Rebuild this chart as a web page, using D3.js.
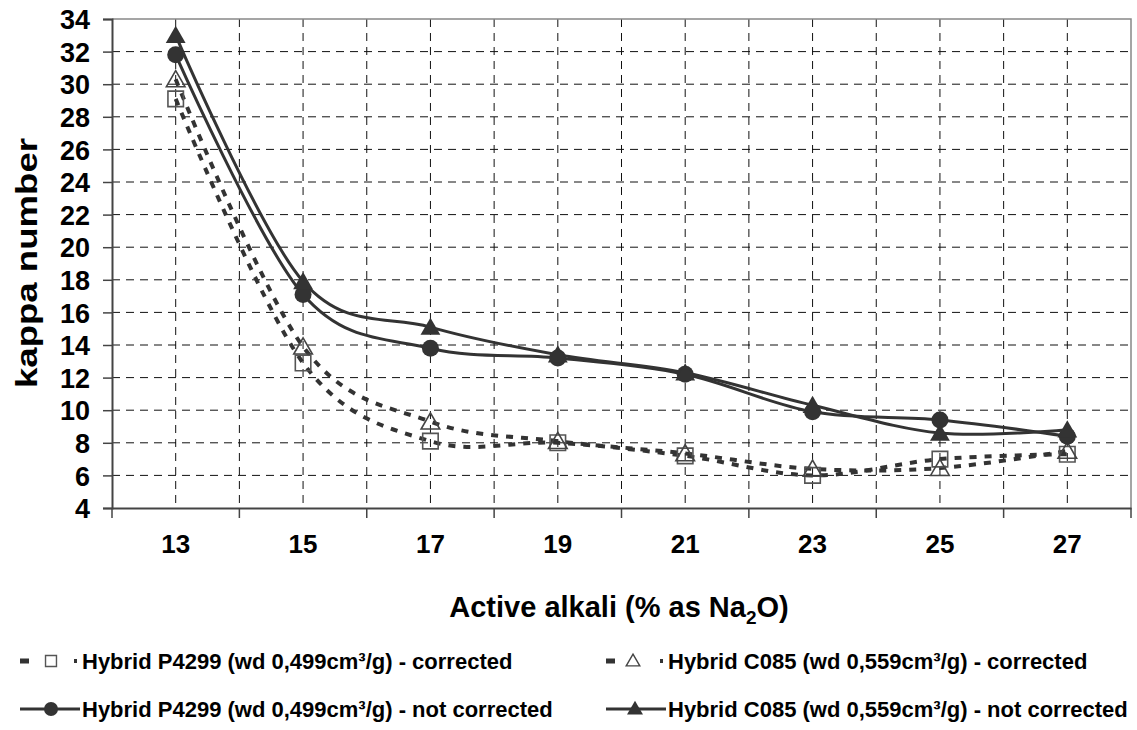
<!DOCTYPE html>
<html><head><meta charset="utf-8">
<script src="https://cdn.jsdelivr.net/npm/d3@7"></script>
<style>
body{margin:0;background:#fff;}
text{font-family:"Liberation Sans",Arial,sans-serif;font-weight:bold;fill:#000;}
</style>
</head><body><svg id="c" width="1137" height="730"></svg>
<script>
const categories = ["13","15","17","19","21","23","25","27"];
const p4299Corrected    = [29.1, 12.9, 8.1, 8.0, 7.2, 6.0, 7.0, 7.3];
const c085Corrected     = [30.3, 13.9, 9.3, 8.1, 7.35, 6.4, 6.45, 7.5];
const p4299NotCorrected = [31.8, 17.1, 13.8, 13.2, 12.2, 9.9, 9.4, 8.4];
const c085NotCorrected  = [33.0, 17.9, 15.1, 13.4, 12.3, 10.3, 8.6, 8.8];
const yTicks = d3.range(4, 35, 2);
const seriesNames = [
  "Hybrid P4299 (wd 0,499cm\u00B3/g) - corrected",
  "Hybrid C085 (wd 0,559cm\u00B3/g) - corrected",
  "Hybrid P4299 (wd 0,499cm\u00B3/g) - not corrected",
  "Hybrid C085 (wd 0,559cm\u00B3/g) - not corrected"
];
const yTitle = "kappa number";

const svg = d3.select("#c");
const L = 112, R = 1131, T = 19, B = 508;
const x = d3.scaleBand().domain(categories).range([L, R]);
const y = d3.scaleLinear().domain([4, 34]).range([B, T]);
const bw = x.bandwidth();
const cx = c => x(c) + bw / 2;
const col = "#333";

// grid
const g = svg.append("g");
const vx = [];
categories.forEach((c, i) => { vx.push(cx(c)); if (i > 0) vx.push(x(c)); });
g.selectAll("line.v").data(vx).join("line")
  .attr("x1", d => d).attr("x2", d => d).attr("y1", T).attr("y2", B)
  .attr("stroke", "#111").attr("stroke-width", 1).attr("stroke-dasharray", "8,6");
g.selectAll("line.h").data(yTicks.filter(v => v > 4 && v < 34)).join("line")
  .attr("x1", L).attr("x2", R).attr("y1", d => y(d)).attr("y2", d => y(d))
  .attr("stroke", "#111").attr("stroke-width", 1).attr("stroke-dasharray", "8,6");
svg.append("path").attr("d", `M${L},${T}H${R}V${B}`).attr("fill", "none")
  .attr("stroke", "#888").attr("stroke-width", 1.5);

// y axis
const ya = svg.append("g").attr("transform", `translate(${L},0)`)
  .call(d3.axisLeft(y).tickValues(yTicks).tickSize(9).tickPadding(13).tickFormat(d3.format("d")));
ya.select(".domain").attr("stroke", "#444").attr("stroke-width", 2);
ya.selectAll(".tick line").attr("stroke", "#444").attr("stroke-width", 1.5);
ya.selectAll(".tick text").style("font-size", "27px").attr("dy", "0.36em");

// x axis
const xa = svg.append("g").attr("transform", `translate(0,${B})`)
  .call(d3.axisBottom(x).tickSize(0).tickPadding(27));
xa.select(".domain").attr("stroke", "#444").attr("stroke-width", 2);
xa.selectAll(".tick text").style("font-size", "26px");
const bounds = categories.map(c => x(c)).concat([R]);
xa.selectAll("line.b").data(bounds).join("line")
  .attr("x1", d => d).attr("x2", d => d).attr("y1", 0).attr("y2", 10)
  .attr("stroke", "#444").attr("stroke-width", 1.5);

// axis titles
svg.append("text").attr("x", 619).attr("y", 617).attr("text-anchor", "middle")
  .style("font-size", "29px")
  .call(t => {
    t.append("tspan").text("Active alkali (% as Na");
    t.append("tspan").text("2").style("font-size", "19px").attr("dy", 7);
    t.append("tspan").text("O)").attr("dy", -7);
  });
svg.append("text").attr("transform", "translate(37,263) rotate(-90)").attr("text-anchor", "middle")
  .style("font-size", "29px").attr("textLength", 250).attr("lengthAdjust", "spacingAndGlyphs").text(yTitle);

// series
const line = d3.line().x((d, i) => cx(categories[i])).y(d => y(d)).curve(d3.curveCardinal.tension(0));
const plot = svg.append("g");
plot.selectAll("path.d").data([p4299Corrected, c085Corrected]).join("path")
  .attr("d", line).attr("fill", "none").attr("stroke", col)
  .attr("stroke-width", 4).attr("stroke-dasharray", "7,8");
plot.selectAll("path.s").data([p4299NotCorrected, c085NotCorrected]).join("path")
  .attr("d", line).attr("fill", "none").attr("stroke", col).attr("stroke-width", 3);

const sq = d3.symbol().type(d3.symbolSquare).size(240);
const triOpen = d3.symbol().type(d3.symbolTriangle).size(150);
const triFill = d3.symbol().type(d3.symbolTriangle).size(170);
plot.selectAll("path.sq").data(p4299Corrected).join("path")
  .attr("transform", (d, i) => `translate(${cx(categories[i])},${y(d)})`)
  .attr("d", sq).attr("fill", "none").attr("stroke", "#555").attr("stroke-width", 1.6);
plot.selectAll("path.to").data(c085Corrected).join("path")
  .attr("transform", (d, i) => `translate(${cx(categories[i])},${y(d) + 2})`)
  .attr("d", triOpen).attr("fill", "none").attr("stroke", "#444").attr("stroke-width", 1.6);
plot.selectAll("circle.c").data(p4299NotCorrected).join("circle")
  .attr("cx", (d, i) => cx(categories[i])).attr("cy", d => y(d)).attr("r", 8.5).attr("fill", col);
plot.selectAll("path.tf").data(c085NotCorrected).join("path")
  .attr("transform", (d, i) => `translate(${cx(categories[i])},${y(d) + 2})`)
  .attr("d", triFill).attr("fill", col);

// legend
const leg = svg.append("g");
const items = [
  {x: 20, y: 661, kind: "sq", name: seriesNames[0]},
  {x: 606, y: 661, kind: "to", name: seriesNames[1]},
  {x: 20, y: 709, kind: "c", name: seriesNames[2]},
  {x: 606, y: 709, kind: "tf", name: seriesNames[3]}
];
items.forEach(it => {
  const gg = leg.append("g").attr("transform", `translate(${it.x},${it.y})`);
  if (it.kind === "sq" || it.kind === "to") {
    gg.append("rect").attr("x", 0).attr("y", -2.5).attr("width", 9).attr("height", 5).attr("fill", col);
    if (it.kind === "sq")
      gg.append("path").attr("transform", "translate(31,0)").attr("d", d3.symbol().type(d3.symbolSquare).size(120))
        .attr("fill", "#fff").attr("stroke", "#555").attr("stroke-width", 1.4);
    else
      gg.append("path").attr("transform", "translate(27,1)").attr("d", d3.symbol().type(d3.symbolTriangle).size(80))
        .attr("fill", "#fff").attr("stroke", "#444").attr("stroke-width", 1.4);
    gg.append("rect").attr("x", 54).attr("y", -2).attr("width", 3).attr("height", 4).attr("fill", col);
  } else {
    gg.append("line").attr("x1", 0).attr("x2", 60).attr("y1", 0).attr("y2", 0)
      .attr("stroke", col).attr("stroke-width", 3);
    if (it.kind === "c")
      gg.append("circle").attr("cx", 31).attr("r", 7).attr("fill", col);
    else
      gg.append("path").attr("transform", "translate(29,1)").attr("d", d3.symbol().type(d3.symbolTriangle).size(110)).attr("fill", col);
  }
  gg.append("text").attr("x", 62).attr("y", 8)
    .style("font-size", "22px").text(it.name);
});
</script>
</body></html>
